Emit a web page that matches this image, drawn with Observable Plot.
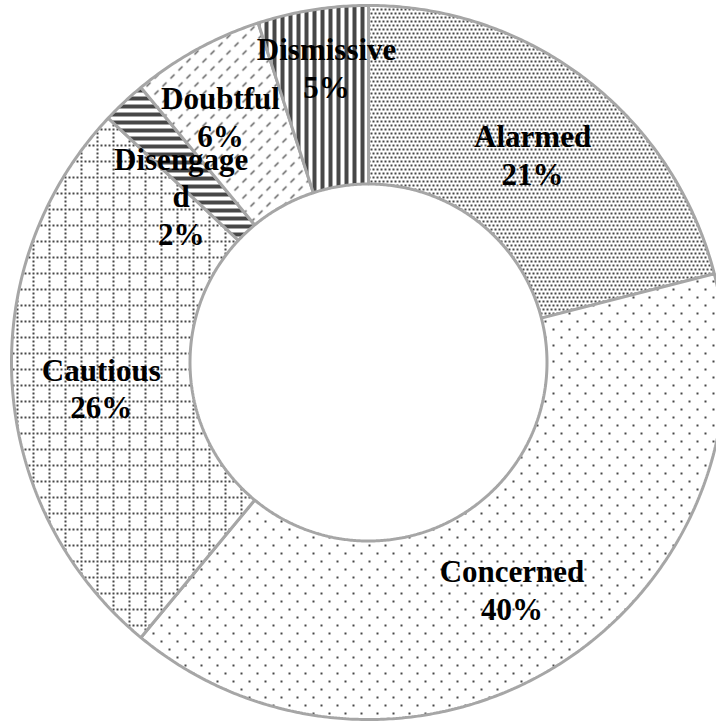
<!DOCTYPE html>
<html>
<head>
<meta charset="utf-8">
<script src="https://cdn.jsdelivr.net/npm/d3@7"></script>
<script src="https://cdn.jsdelivr.net/npm/@observablehq/plot@0.6"></script>
<style>
  html, body { margin: 0; padding: 0; background: #fff; overflow: hidden; }
</style>
</head>
<body>
<div id="chart"></div>
<script>
// ---- Data ----
const categories = ["Alarmed", "Concerned", "Cautious", "Disengaged", "Doubtful", "Dismissive"];
const values = [21, 40, 26, 2, 6, 5];
const percentLabels = ["21%", "40%", "26%", "2%", "6%", "5%"];

// ---- Layout / style (not data) ----
const W = 716, H = 721;
const cx = 368, cy = 362, R = 357;
const innerRatio = 0.5;
const fg = "#474747";
const border = "#a6a6a6";
const patternIds = ["pAlarmed", "pConcerned", "pCautious", "pDisengaged", "pDoubtful", "pDismissive"];
const wrapAt = {Disengaged: 9};
const labelNudge = {Alarmed: [0, 3], Cautious: [0, 8], Disengaged: [-4, 28], Doubtful: [-19, -12], Dismissive: [0, -31]};

const total = d3.sum(values);
let acc = 0;
const slices = values.map((v, i) => {
  const a0 = acc / total * 2 * Math.PI;
  acc += v;
  const a1 = acc / total * 2 * Math.PI;
  return {i, name: categories[i], value: v, a0, a1};
});

function ringPoints(s) {
  const pts = [];
  const n = Math.max(4, Math.ceil((s.a1 - s.a0) / (Math.PI / 360)));
  for (let k = 0; k <= n; k++) {
    const a = s.a0 + (s.a1 - s.a0) * k / n;
    pts.push({x: Math.sin(a), y: Math.cos(a)});
  }
  for (let k = n; k >= 0; k--) {
    const a = s.a0 + (s.a1 - s.a0) * k / n;
    pts.push({x: innerRatio * Math.sin(a), y: innerRatio * Math.cos(a)});
  }
  return pts;
}

function labelText(name, pct) {
  const w = wrapAt[name];
  const nm = w ? name.slice(0, w) + "\n" + name.slice(w) : name;
  return nm + "\n" + pct;
}

const rMid = (1 + innerRatio) / 2;
const sliceMarks = slices.map(s => Plot.line(ringPoints(s), {
  x: "x", y: "y",
  fill: `url(#${patternIds[s.i]})`,
  stroke: border, strokeWidth: 3,
  strokeLinejoin: "miter",
  curve: "linear-closed"
}));

const labelMarks = slices.map(s => {
  const am = (s.a0 + s.a1) / 2;
  const [dx, dy] = labelNudge[s.name] || [0, 0];
  return Plot.text([{x: rMid * Math.sin(am), y: rMid * Math.cos(am), t: labelText(s.name, percentLabels[s.i])}], {
    x: "x", y: "y", text: "t",
    dx, dy,
    fontFamily: "'Liberation Serif', 'Times New Roman', serif",
    fontWeight: "bold",
    fontSize: 31,
    lineHeight: 1.22,
    fill: "#000",
    textAnchor: "middle",
    lineAnchor: "middle"
  });
});

const chart = Plot.plot({
  width: W,
  height: H,
  margin: 0,
  x: {domain: [-1, 1], range: [cx - R, cx + R], axis: null},
  y: {domain: [-1, 1], range: [cy + R, cy - R], axis: null},
  style: {background: "#fff", overflow: "hidden"},
  marks: [...sliceMarks, ...labelMarks]
});

// ---- Pattern definitions ----
const svg = d3.select(chart);
const defs = svg.insert("defs", ":first-child");
function pattern(id, w, h) {
  const p = defs.append("pattern").attr("id", id)
    .attr("patternUnits", "userSpaceOnUse").attr("width", w).attr("height", h);
  p.append("rect").attr("width", w).attr("height", h).attr("fill", "#fff");
  return p;
}
function dot(p, x, y, s = 2) { p.append("rect").attr("x", x).attr("y", y).attr("width", s).attr("height", s).attr("fill", fg); }

// Alarmed: dense staggered dots
{ const p = pattern(patternIds[0], 8, 8); dot(p, 0, 0); dot(p, 4, 0); dot(p, 2, 4); dot(p, 6, 4); }
// Concerned: sparse staggered dots
{ const p = pattern(patternIds[1], 16, 16); dot(p, 0, 0); dot(p, 8, 8); }
// Cautious: dotted grid
{ const p = pattern(patternIds[2], 16, 16); for (let k = 0; k < 16; k += 4) { dot(p, k, 0); if (k) dot(p, 0, k); } }
// Disengaged: dark horizontal stripes
{ const p = pattern(patternIds[3], 8, 8); p.append("rect").attr("x", 0).attr("y", 0).attr("width", 8).attr("height", 4).attr("fill", fg); }
// Doubtful: dashed upward diagonal
{ const p = pattern(patternIds[4], 16, 16);
  p.append("path").attr("d", "M2,6L6,2M10,14L14,10").attr("stroke", fg).attr("stroke-width", 1.2).attr("fill", "none"); }
// Dismissive: dark vertical stripes
{ const p = pattern(patternIds[5], 8, 8); p.append("rect").attr("x", 0).attr("y", 0).attr("width", 4).attr("height", 8).attr("fill", fg); }

document.getElementById("chart").appendChild(chart);
</script>
</body>
</html>
